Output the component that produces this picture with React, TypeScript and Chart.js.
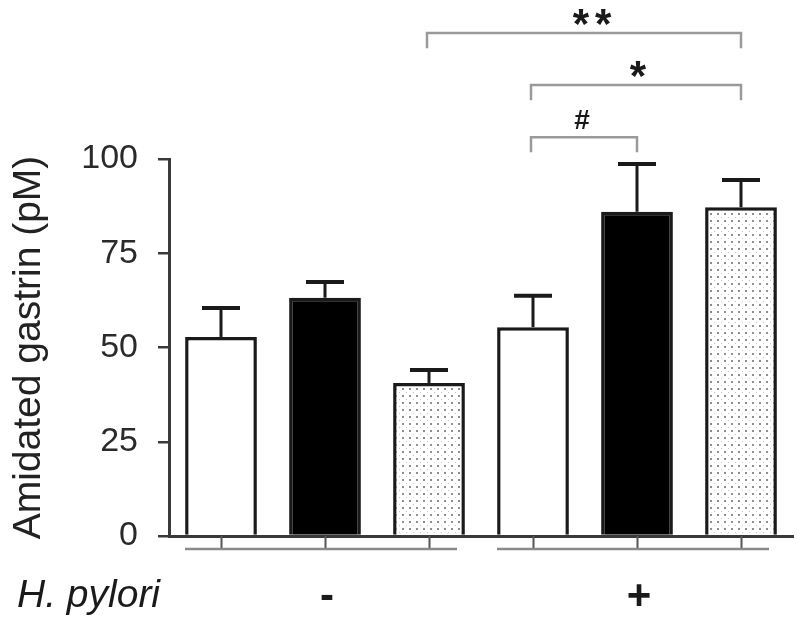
import { useEffect, useRef } from "react";
import { Chart, registerables } from "chart.js";

Chart.register(...registerables);

// ---- data ----
const categories = ["− A", "− B", "− C", "+ A", "+ B", "+ C"];
const meanValues = [52.8, 63.2, 40.6, 55.4, 86.0, 87.2];
const errorValues = [7.7, 4.2, 3.4, 8.3, 12.7, 7.2];
const fillKinds = ["white", "black", "dots", "white", "black", "dots"];
const yTickValues = [0, 25, 50, 75, 100];
const yAxisTitle = "Amidated gastrin (pM)";
const factorName = "H. pylori";
const groupLabels = ["-", "+"];
const groupFirst = [0, 3];
const groupLast = [2, 5];
const bracketFrom = [2, 3, 3];
const bracketTo = [5, 5, 4];
const bracketLabels = ["**", "*", "#"];
const bracketLevels = [133.4, 119.6, 105.8];

const FONT = "'Liberation Sans', Arial, Helvetica, sans-serif";
const DARK = "#1a1a1a";
const AXIS = "#3a3a3a";

function makeDotPattern(): CanvasPattern | string {
  const c = document.createElement("canvas");
  c.width = 7;
  c.height = 7;
  const g = c.getContext("2d");
  if (!g) return "#eeeeee";
  g.fillStyle = "#ffffff";
  g.fillRect(0, 0, 7, 7);
  g.fillStyle = "#8e8e8e";
  g.fillRect(3, 3, 2, 2);
  g.fillStyle = "#c4c4c4";
  g.fillRect(0, 0, 1, 1);
  const p = g.createPattern(c, "repeat");
  return p || "#eeeeee";
}

const overlayPlugin = {
  id: "overlay",
  afterDatasetsDraw(chart: any) {
    const ctx: CanvasRenderingContext2D = chart.ctx;
    const xs = chart.scales.x;
    const ys = chart.scales.y;
    ctx.save();
    // error bars
    ctx.strokeStyle = DARK;
    ctx.lineCap = "butt";
    for (let i = 0; i < meanValues.length; i++) {
      const cx = xs.getPixelForValue(i);
      const yMean = ys.getPixelForValue(meanValues[i]);
      const yTop = ys.getPixelForValue(meanValues[i] + errorValues[i]);
      ctx.lineWidth = 3;
      ctx.beginPath();
      ctx.moveTo(cx, yMean);
      ctx.lineTo(cx, yTop);
      ctx.stroke();
      ctx.lineWidth = 4;
      ctx.beginPath();
      ctx.moveTo(cx - 19, yTop);
      ctx.lineTo(cx + 19, yTop);
      ctx.stroke();
    }
    ctx.restore();
  },
  afterDraw(chart: any) {
    const ctx: CanvasRenderingContext2D = chart.ctx;
    const xs = chart.scales.x;
    const ys = chart.scales.y;
    const base = chart.chartArea.bottom;
    ctx.save();
    // small ticks under the axis
    ctx.strokeStyle = "#555555";
    ctx.lineWidth = 2;
    for (let i = 0; i < categories.length; i++) {
      const cx = Math.round(xs.getPixelForValue(i)) + 0.5;
      ctx.beginPath();
      ctx.moveTo(cx, base);
      ctx.lineTo(cx, base + 13);
      ctx.stroke();
    }
    // group lines and labels
    for (let g = 0; g < groupLabels.length; g++) {
      const x1 = xs.getPixelForValue(groupFirst[g]) - 36;
      const x2 = xs.getPixelForValue(groupLast[g]) + 28;
      ctx.strokeStyle = "#8a8a8a";
      ctx.lineWidth = 2.5;
      ctx.beginPath();
      ctx.moveTo(x1, base + 13);
      ctx.lineTo(x2, base + 13);
      ctx.stroke();
      const mid = xs.getPixelForValue((groupFirst[g] + groupLast[g]) / 2) + 2;
      ctx.fillStyle = DARK;
      ctx.font = `bold 42px ${FONT}`;
      ctx.textAlign = "center";
      ctx.textBaseline = "alphabetic";
      ctx.fillText(groupLabels[g], mid, base + 73);
    }
    ctx.fillStyle = DARK;
    ctx.font = `italic 39px ${FONT}`;
    ctx.textAlign = "left";
    ctx.textBaseline = "alphabetic";
    ctx.fillText(factorName, chart.chartArea.left - 152, base + 71);

    // significance brackets
    for (let b = 0; b < bracketLabels.length; b++) {
      const x1 = xs.getPixelForValue(bracketFrom[b]) - 2;
      const x2 = xs.getPixelForValue(bracketTo[b]);
      const yb = ys.getPixelForValue(bracketLevels[b]);
      const yl = ys.getPixelForValue(bracketLevels[b] - 4);
      ctx.strokeStyle = "#9a9a9a";
      ctx.lineWidth = 2.5;
      ctx.beginPath();
      ctx.moveTo(x1, yl);
      ctx.lineTo(x1, yb);
      ctx.lineTo(x2, yb);
      ctx.lineTo(x2, yl);
      ctx.stroke();
      const label = bracketLabels[b];
      const isStar = label.indexOf("*") >= 0;
      ctx.font = isStar ? `bold 42px ${FONT}` : `bold 28px ${FONT}`;
      (ctx as any).letterSpacing = isStar ? "6px" : "0px";
      ctx.textAlign = "center";
      ctx.textBaseline = "alphabetic";
      const m = ctx.measureText(label);
      const baseline = yb - 8 - m.actualBoundingBoxDescent;
      const cx = (x1 + x2) / 2 + (isStar && label.length > 1 ? 11 : isStar ? 5 : -2);
      ctx.fillStyle = DARK;
      ctx.fillText(label, cx, baseline);
      (ctx as any).letterSpacing = "0px";
    }
    ctx.restore();
  },
};

export default function App() {
  const ref = useRef<HTMLCanvasElement | null>(null);
  useEffect(() => {
    document.body.style.margin = "0";
    const canvas = ref.current;
    if (!canvas) return;
    const dots = makeDotPattern();
    const fills = fillKinds.map((k) => (k === "black" ? "#000000" : k === "dots" ? dots : "#ffffff"));
    const chart = new Chart(canvas, {
      type: "bar",
      data: {
        labels: categories,
        datasets: [
          {
            data: meanValues,
            backgroundColor: fills as any,
            borderColor: DARK,
            borderWidth: 3.5,
            borderSkipped: "start",
            categoryPercentage: 1,
            barPercentage: 0.69,
          },
        ],
      },
      options: {
        animation: false,
        responsive: true,
        maintainAspectRatio: false,
        layout: { padding: { top: 159, right: 7, left: 0, bottom: 0 } },
        plugins: {
          legend: { display: false },
          tooltip: { enabled: false },
          title: { display: false },
        },
        scales: {
          x: {
            type: "category",
            offset: true,
            grid: { display: false },
            ticks: { display: false },
            border: { display: true, color: AXIS, width: 3 },
            afterFit: (s: any) => {
              s.height = 90;
            },
          },
          y: {
            type: "linear",
            min: 0,
            max: 100,
            afterBuildTicks: (s: any) => {
              s.ticks = yTickValues.map((v) => ({ value: v }));
            },
            grid: {
              display: true,
              drawOnChartArea: false,
              drawTicks: true,
              tickLength: 11,
              color: AXIS,
              lineWidth: 2.5,
            },
            border: { display: true, color: AXIS, width: 3 },
            ticks: {
              color: "#2a2a2a",
              font: { family: FONT, size: 34 },
              padding: 20,
            },
            title: {
              display: true,
              text: yAxisTitle,
              color: "#222222",
              font: { family: FONT, size: 39 },
              padding: { top: 6, bottom: 0 },
            },
            afterFit: (s: any) => {
              s.width = 169;
            },
          },
        },
      },
      plugins: [overlayPlugin],
    });
    return () => chart.destroy();
  }, []);
  return (
    <div style={{ width: "800px", height: "626px", position: "relative", background: "#ffffff" }}>
      <canvas ref={ref} style={{ display: "block" }} />
    </div>
  );
}
